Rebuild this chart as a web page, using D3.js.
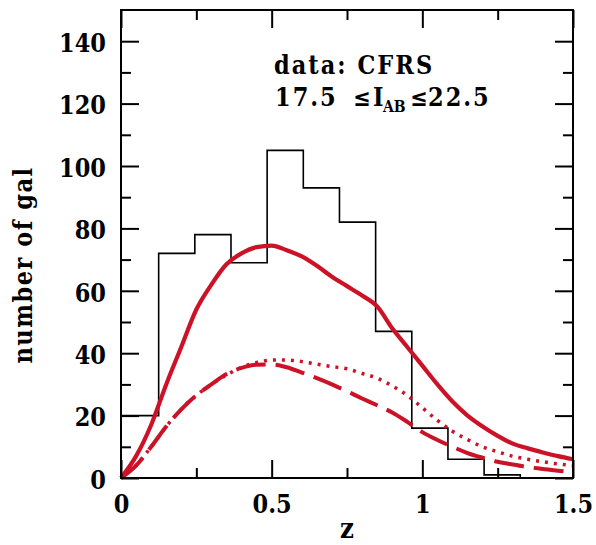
<!DOCTYPE html>
<html>
<head>
<meta charset="utf-8">
<script src="https://cdn.jsdelivr.net/npm/d3@7"></script>
<style>
  html, body { margin: 0; padding: 0; background: #fff; }
  svg { display: block; }
  .lbl { font-family: "DejaVu Serif", "Liberation Serif", serif; font-weight: bold; fill: #000; }
</style>
</head>
<body>
<svg id="chart" width="596" height="545"></svg>
<script>
// ---------- data ----------
const binEdges  = [0, 0.125, 0.245, 0.365, 0.485, 0.605, 0.725, 0.845, 0.965, 1.085, 1.205, 1.325];
const binCounts = [20, 72, 78, 69, 105, 93, 82, 47, 16, 6, 1];

const curveZ = [0, 0.05, 0.1, 0.15, 0.2, 0.25, 0.3, 0.35, 0.4, 0.45, 0.5, 0.55, 0.6, 0.65, 0.7, 0.75,
                0.8, 0.85, 0.9, 0.95, 1.0, 1.05, 1.1, 1.15, 1.2, 1.25, 1.3, 1.35, 1.4, 1.45, 1.5];
const solidN  = [0, 7, 17, 30, 42, 54, 62, 68.5, 72, 74, 74.5, 73, 71, 68, 64.5, 61.5,
                 58.5, 55, 48, 42, 36, 30, 24.5, 20, 16.5, 13.5, 11, 9.5, 8.2, 7, 6];
const dottedN = [0, 4, 10, 16.5, 22, 26.5, 30, 33, 35.5, 37, 37.8, 37.8, 37.3, 36.5, 35.7, 35,
                 33.5, 32, 29.5, 26.5, 22.5, 18.5, 15, 12.3, 10, 8.4, 7, 6, 5.2, 4.5, 4];
const dashedN = [0, 4, 10, 16.5, 22, 26.5, 30, 33.3, 35.3, 36.3, 36.4, 35.5, 33.8, 32, 30, 27.8,
                 25.5, 23.3, 21, 18, 14.7, 12.2, 10, 8, 6.5, 5.2, 4.3, 3.5, 2.9, 2.3, 1.9];

const xMajorTicks = [0, 0.5, 1, 1.5];
const xMajorLabels = ["0", "0.5", "1", "1.5"];
const xMinorTicks = [0.25, 0.75, 1.25];
const yMajorTicks = [0, 20, 40, 60, 80, 100, 120, 140];
const yMinorTicks = [10, 30, 50, 70, 90, 110, 130];

const xTitle = "z";
const yTitle = "number of gal";
const noteLine1 = "data: CFRS";
const noteLow = "17.5", noteLe = "\u2264", noteI = "I", noteSub = "AB", noteHigh = "22.5";

// ---------- layout ----------
const L = 121, R = 573, T = 10, B = 478;
const svg = d3.select("#chart");
const x = d3.scaleLinear().domain([0, 1.5]).range([L, R]);
const y = d3.scaleLinear().domain([0, 150]).range([B, T]);
const red = "#cc1226";
const SY = 1.15;
const FS = 22.5;

// histogram
const histPts = binCounts.map((c, i) => [binEdges[i], c]);
histPts.push([binEdges[binEdges.length - 1], 0]);
svg.append("path")
  .datum(histPts)
  .attr("fill", "none")
  .attr("stroke", "#000")
  .attr("stroke-width", 1.6)
  .attr("d", d3.line().x(d => x(d[0])).y(d => y(d[1])).curve(d3.curveStepAfter));

// curves
const mk = arr => curveZ.map((z, i) => [z, arr[i]]);
const line = d3.line().x(d => x(d[0])).y(d => y(d[1])).curve(d3.curveMonotoneX);
const g = svg.append("g");
g.append("path").datum(mk(dottedN))
  .attr("fill", "none").attr("stroke", red).attr("stroke-width", 3.5)
  .attr("stroke-dasharray", "3,6").attr("d", line);
g.append("path").datum(mk(dashedN))
  .attr("fill", "none").attr("stroke", red).attr("stroke-width", 4)
  .attr("stroke-dasharray", "30,10").attr("d", line);
g.append("path").datum(mk(solidN))
  .attr("fill", "none").attr("stroke", red).attr("stroke-width", 4.2)
  .attr("d", line);

// axes (ticks inward)
function styleAxis(sel) {
  sel.select(".domain").remove();
  sel.selectAll(".tick line").attr("stroke", "#000").attr("stroke-width", 2);
}
const MAJ = 18, MIN = 10;

// left
svg.append("g").attr("transform", `translate(${L},0)`)
  .call(d3.axisLeft(y).tickValues(yMajorTicks).tickSize(-MAJ).tickPadding(15).tickFormat(d3.format("d")))
  .call(styleAxis)
  .call(s => s.selectAll(".tick text").attr("class", "lbl").attr("font-size", FS)
      .attr("dy", "0.4em").attr("transform", `scale(1,${SY})`));
svg.append("g").attr("transform", `translate(${L},0)`)
  .call(d3.axisLeft(y).tickValues(yMinorTicks).tickSize(-MIN).tickFormat(""))
  .call(styleAxis);
// right
svg.append("g").attr("transform", `translate(${R},0)`)
  .call(d3.axisRight(y).tickValues(yMajorTicks).tickSize(-MAJ).tickFormat(""))
  .call(styleAxis);
svg.append("g").attr("transform", `translate(${R},0)`)
  .call(d3.axisRight(y).tickValues(yMinorTicks).tickSize(-MIN).tickFormat(""))
  .call(styleAxis);
// bottom
svg.append("g").attr("transform", `translate(0,${B})`)
  .call(d3.axisBottom(x).tickValues(xMajorTicks).tickSize(-MAJ).tickFormat((d, i) => xMajorLabels[i]))
  .call(styleAxis)
  .call(s => s.selectAll(".tick text").attr("class", "lbl").attr("font-size", FS)
      .attr("y", 35 / SY).attr("dy", 0).attr("transform", `scale(1,${SY})`));
svg.append("g").attr("transform", `translate(0,${B})`)
  .call(d3.axisBottom(x).tickValues(xMinorTicks).tickSize(-MIN).tickFormat(""))
  .call(styleAxis);
// top
svg.append("g").attr("transform", `translate(0,${T})`)
  .call(d3.axisTop(x).tickValues(xMajorTicks).tickSize(-MAJ).tickFormat(""))
  .call(styleAxis);
svg.append("g").attr("transform", `translate(0,${T})`)
  .call(d3.axisTop(x).tickValues(xMinorTicks).tickSize(-MIN).tickFormat(""))
  .call(styleAxis);

// frame
svg.append("rect").attr("x", L).attr("y", T).attr("width", R - L).attr("height", B - T)
  .attr("fill", "none").attr("stroke", "#000").attr("stroke-width", 2);

// axis titles
svg.append("g").attr("transform", `translate(${(L + R) / 2},538) scale(1,${SY})`)
  .append("text").attr("class", "lbl").attr("font-size", FS + 2).attr("text-anchor", "middle").text(xTitle);
svg.append("g").attr("transform", `translate(32,265) rotate(-90) scale(1,${SY})`)
  .append("text").attr("class", "lbl").attr("font-size", FS).attr("letter-spacing", 1.5)
  .attr("text-anchor", "middle").text(yTitle);

// annotation
const ann = svg.append("g").attr("transform", `translate(0,74) scale(1,${SY})`);
ann.append("text").attr("class", "lbl").attr("font-size", FS).attr("letter-spacing", 2)
  .attr("x", 274).attr("y", 0).text(noteLine1);
const y2 = 32 / SY;
ann.append("text").attr("class", "lbl").attr("font-size", FS).attr("letter-spacing", 2)
  .attr("x", 275).attr("y", y2).text(noteLow);
ann.append("text").attr("class", "lbl").attr("font-size", 21)
  .attr("x", 353).attr("y", y2).text(noteLe);
ann.append("text").attr("class", "lbl").attr("font-size", FS)
  .attr("x", 373).attr("y", y2).text(noteI);
ann.append("text").attr("class", "lbl").attr("font-size", 14)
  .attr("x", 383).attr("y", y2 + 6 / SY).text(noteSub);
ann.append("text").attr("class", "lbl").attr("font-size", 21)
  .attr("x", 410).attr("y", y2).text(noteLe);
ann.append("text").attr("class", "lbl").attr("font-size", FS).attr("letter-spacing", 2)
  .attr("x", 428).attr("y", y2).text(noteHigh);
</script>
</body>
</html>
